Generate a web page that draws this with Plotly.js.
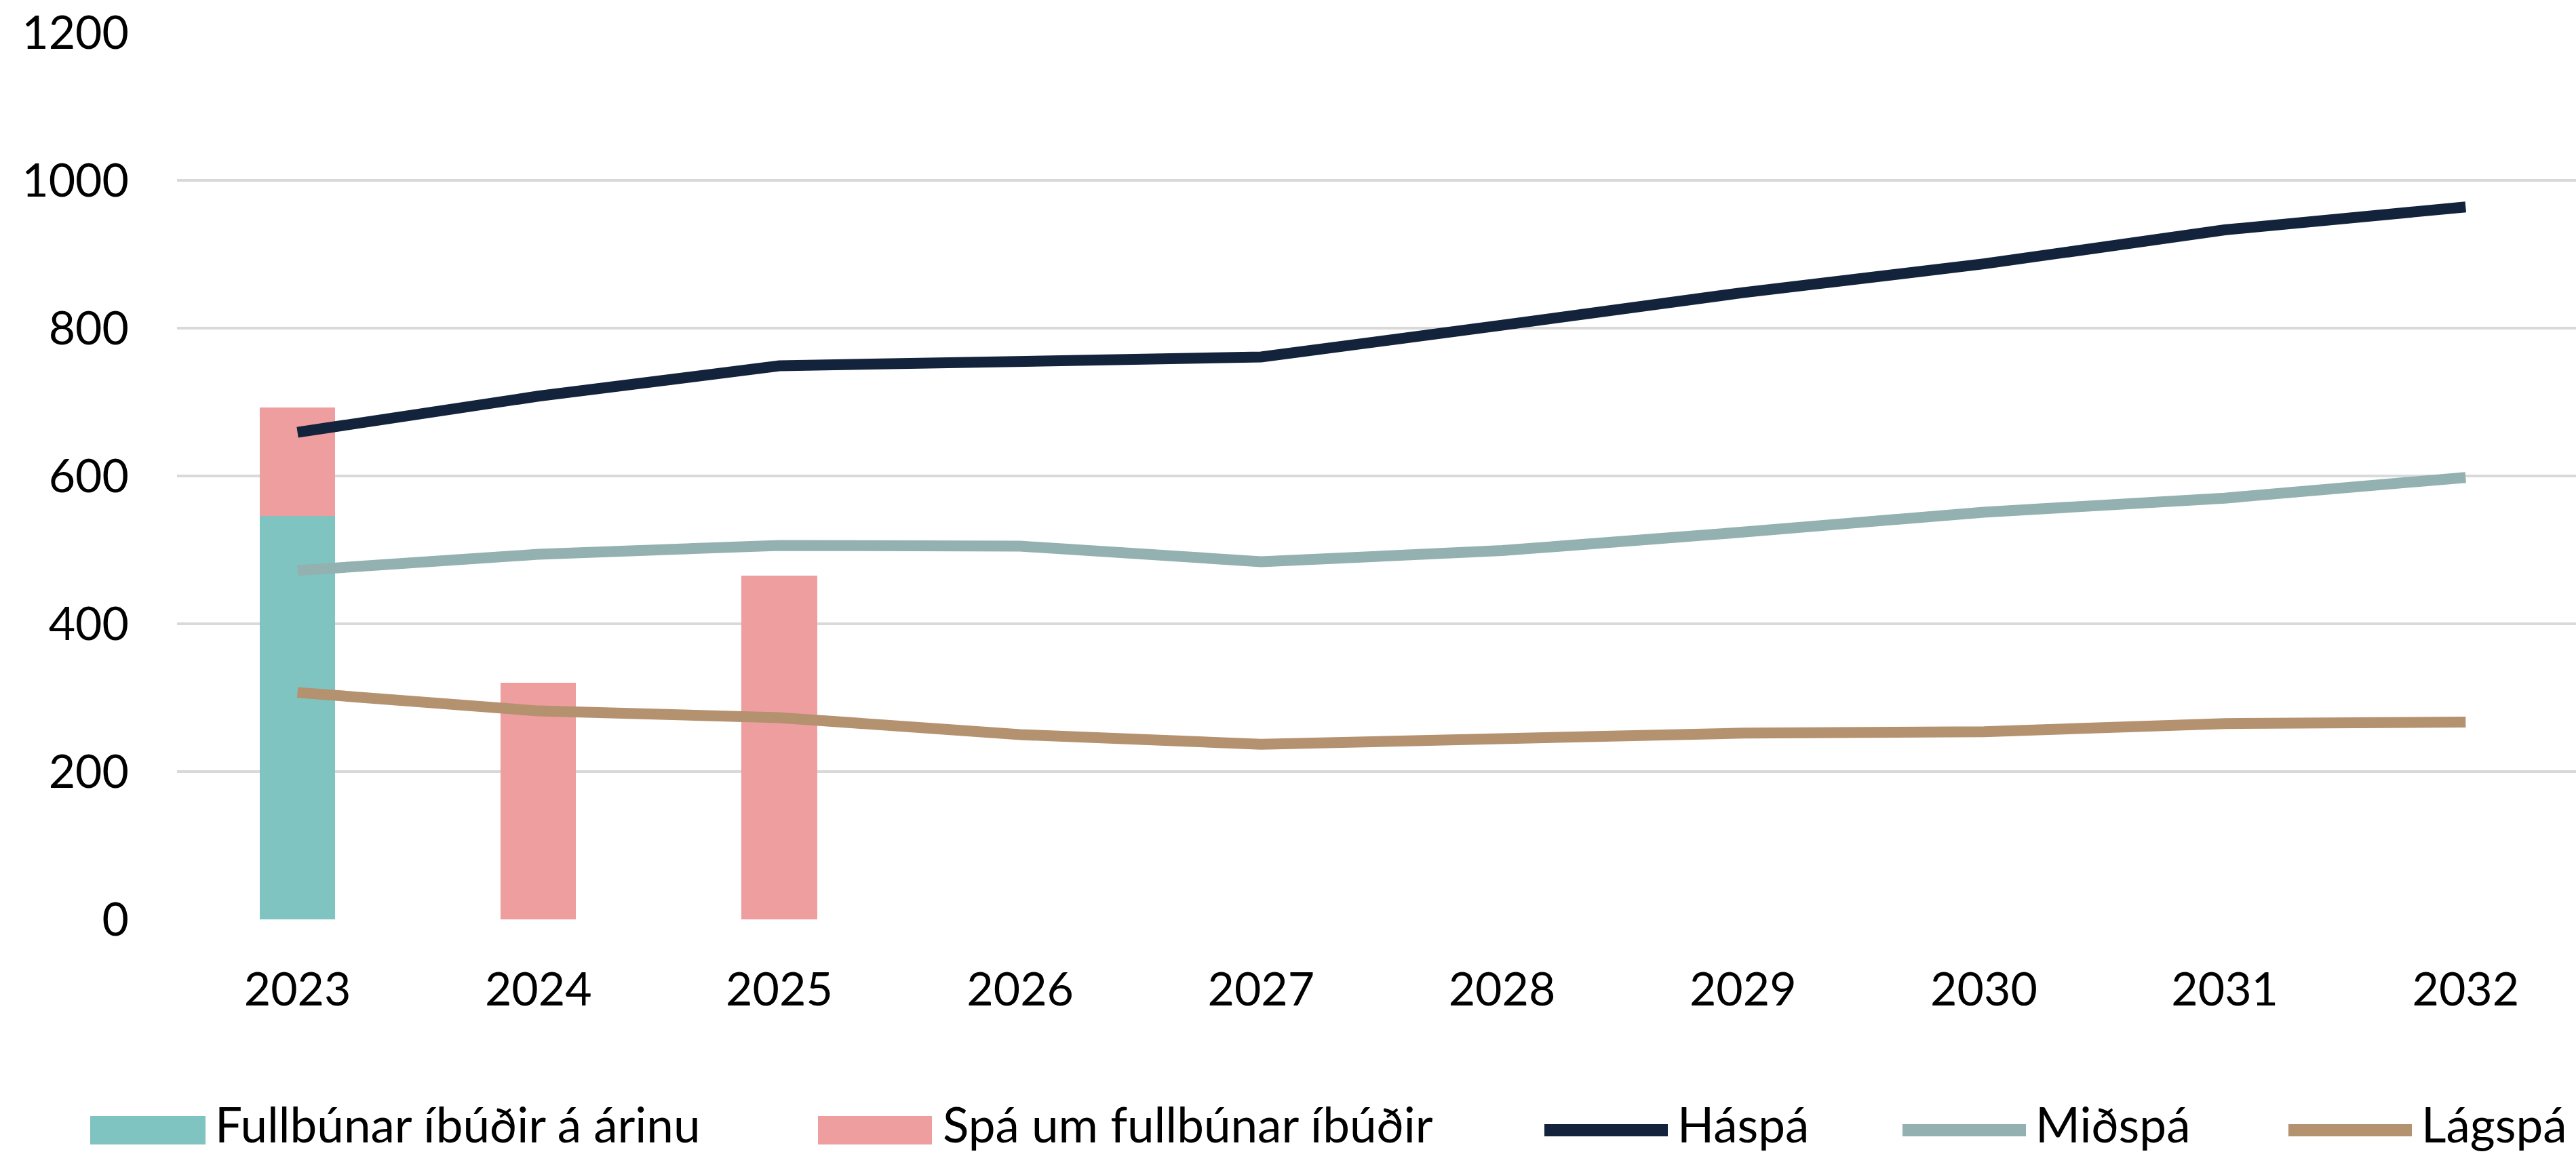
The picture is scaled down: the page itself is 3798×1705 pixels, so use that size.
<!DOCTYPE html>
<html>
<head>
<meta charset="utf-8">
<script src="https://cdn.plot.ly/plotly-3.0.1.min.js"></script>
<style>
html,body{margin:0;padding:0;background:#fff;}
#chart{width:3798px;height:1705px;}
</style>
</head>
<body>
<div id="chart"></div>
<script>
// ---- data ----
const years = ['2023','2024','2025','2026','2027','2028','2029','2030','2031','2032'];
const fullbunar = [546, null, null, null, null, null, null, null, null, null];
const spaFullbunar = [147, 320, 465, null, null, null, null, null, null, null];
const haspa = [659, 708, 749, 756, 761, 804, 848, 887, 933, 964];
const midspa = [472, 494, 506, 505, 484, 499, 524, 551, 570, 598];
const lagspa = [307, 282, 273, 250, 237, 243, 252, 254, 265, 267];
const yTicks = [0, 200, 400, 600, 800, 1000, 1200];
const seriesNames = ['Fullbúnar íbúðir á árinu', 'Spá um fullbúnar íbúðir', 'Háspá', 'Miðspá', 'Lágspá'];

// ---- styles ----
const colors = ['#80C4C1', '#EE9E9E', '#14233C', '#93B1B0', '#B4916F'];
const FONT = 'Lato, "Open Sans", sans-serif';
const W = 3798, H = 1705;
const L = 261, T = 48, B = 349;
const plotW = W - L, plotH = H - T - B;
const px2x = p => (p - L) / plotW;
const py2y = p => (H - B - p) / plotH;

const traces = [
  {type:'bar', x: years, y: fullbunar, name: seriesNames[0], marker:{color: colors[0]}, hoverinfo:'skip'},
  {type:'bar', x: years, y: spaFullbunar, name: seriesNames[1], marker:{color: colors[1]}, hoverinfo:'skip'},
  {type:'scatter', mode:'lines', x: years, y: haspa, name: seriesNames[2], line:{color: colors[2], width: 16}},
  {type:'scatter', mode:'lines', x: years, y: midspa, name: seriesNames[3], line:{color: colors[3], width: 16}},
  {type:'scatter', mode:'lines', x: years, y: lagspa, name: seriesNames[4], line:{color: colors[4], width: 16}}
];

// custom legend (wide swatches like the original)
const legY = 1667;
const legendItems = [
  {kind:'rect', x0:133, x1:303, tx:315},
  {kind:'rect', x0:1206, x1:1374, tx:1388},
  {kind:'line', x0:2277, x1:2459, tx:2471},
  {kind:'line', x0:2805, x1:2987, tx:2999},
  {kind:'line', x0:3374, x1:3556, tx:3568}
];
const shapes = [];
const annotations = [];
legendItems.forEach((it, i) => {
  if (it.kind === 'rect') {
    shapes.push({type:'rect', xref:'paper', yref:'paper', x0:px2x(it.x0), x1:px2x(it.x1),
      y0:py2y(legY-21), y1:py2y(legY+21), fillcolor:colors[i], line:{width:0}});
  } else {
    shapes.push({type:'line', xref:'paper', yref:'paper', x0:px2x(it.x0), x1:px2x(it.x1),
      y0:py2y(legY), y1:py2y(legY), line:{color:colors[i], width:18}});
  }
  annotations.push({xref:'paper', yref:'paper', x:px2x(it.tx), y:py2y(legY-10), xanchor:'left', yanchor:'middle',
    text: seriesNames[i], showarrow:false, font:{family:FONT, size:71, color:'#000'}});
});

const layout = {
  width: W, height: H,
  margin: {l: L, r: 0, t: T, b: B, pad: 0},
  paper_bgcolor: '#fff', plot_bgcolor: '#fff',
  barmode: 'stack', bargap: 0.687,
  showlegend: false,
  font: {family: FONT, size: 64, color: '#000'},
  xaxis: {type:'category', categoryorder:'array', categoryarray: years, range:[-0.5, 9.458],
    showgrid:false, zeroline:false, showline:false, ticks:'', ticklabelstandoff: 58,
    tickfont:{family: FONT, size: 68, color:'#000'}, fixedrange:true},
  yaxis: {range:[0, 1200], tickvals: yTicks, ticktext: yTicks.map(String),
    showgrid:true, gridcolor:'#D9D9D9', gridwidth:4, zeroline:false, showline:false, ticks:'',
    ticklabelstandoff: 70, tickfont:{family: FONT, size: 68, color:'#000'}, fixedrange:true},
  shapes: shapes,
  annotations: annotations
};

Plotly.newPlot('chart', traces, layout, {staticPlot:true, displayModeBar:false});
</script>
</body>
</html>
